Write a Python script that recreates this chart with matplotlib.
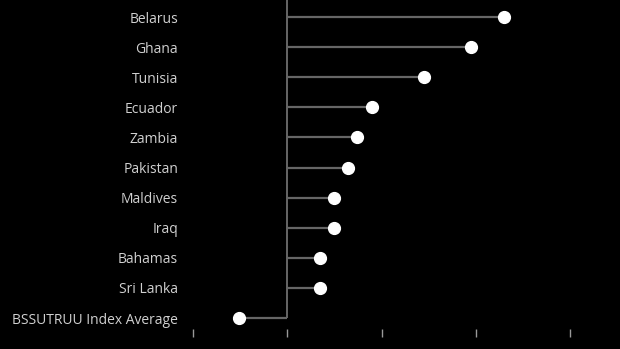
import matplotlib.pyplot as plt

# countries, top to bottom
names = ['Belarus', 'Ghana', 'Tunisia', 'Ecuador', 'Zambia', 'Pakistan',
         'Maldives', 'Iraq', 'Bahamas', 'Sri Lanka', 'BSSUTRUU Index Average']
values = [11.5, 9.75, 7.25, 4.5, 3.7, 3.2, 2.5, 2.5, 1.75, 1.75, -2.55]
xticks = [-5, 0, 5, 10, 15]

plt.rcParams['font.family'] = ['Open Sans', 'DejaVu Sans']

fig = plt.figure(figsize=(6.2, 3.49), dpi=100, facecolor='black')
ax = fig.add_axes([190 / 620, 20 / 349, 430 / 620, 329 / 349])
ax.set_facecolor('black')

pos = list(range(len(names)))
# zero line runs from the top down to the last row
ax.vlines(0, -0.6, pos[-1], color='#777777', linewidth=1.2, zorder=1)
ax.hlines(pos, 0, values, color='#666666', linewidth=1.6, zorder=2)
ax.plot(values, pos, 'o', color='white', markersize=8.5, zorder=3)

ax.set_xlim(-5.16, 17.65)
ax.set_ylim(10.365, -0.565)
ax.set_yticks(pos)
ax.set_yticklabels(names)
ax.set_xticks(xticks)
ax.set_xticklabels([str(t) for t in xticks])

ax.tick_params(axis='y', length=0, pad=8.5, labelsize=10, labelcolor='#d0d0d0')
ax.tick_params(axis='x', length=6, width=1, color='#999999', pad=8,
               labelsize=10, labelcolor='#bbbbbb')
for s in ax.spines.values():
    s.set_visible(False)

fig.savefig('out.png', dpi=100, facecolor='black')
